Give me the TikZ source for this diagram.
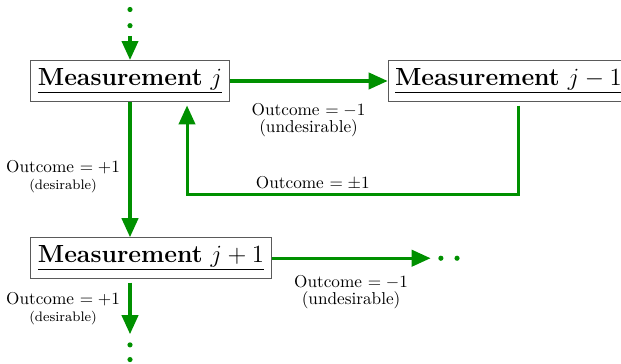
\documentclass[tikz,border=0pt]{standalone}
\usetikzlibrary{arrows.meta, positioning}
\definecolor{flowgreen}{HTML}{009000}
\definecolor{boxgray}{HTML}{5A5A5A}
\newcommand{\measlabel}[1]{\underline{\textbf{Measurement} $#1$}}
\tikzset{
    meas/.style={
        rectangle, draw=boxgray, line width=0.6pt,
        font=\Large, inner sep=4pt, minimum height=0.84cm
    },
    outcome/.style={
        font=\normalsize, text=black, align=center, inner sep=2pt
    },
    flow/.style={
        -{Triangle[length=11pt, width=9.5pt]}, line width=1.75pt, color=flowgreen
    },
    dot/.style={fill=flowgreen}
}

\begin{document}
\begin{tikzpicture}[x=0.02043cm, y=0.02043cm]
    \useasboundingbox (0,0) rectangle (621,-364);

    % Nodes
    \node[meas] (mj) at (130,-81) {\measlabel{j}};
    \node[meas, right=3.23cm of mj] (mjm1) {\measlabel{j-1}};
    \node[meas, below=2.76cm of mj.south west, anchor=north west] (mjp1) {\measlabel{j+1}};

    % Loose ends
    \coordinate (topin) at ([yshift=0.49cm]mj.north);
    \coordinate (rightout) at ([xshift=3.25cm]mjp1.east);
    \coordinate (downout) at ([yshift=-1.12cm]mjp1.south -| mj);

    % Edges
    \draw[flow] (topin) -- (mj);
    \draw[flow] (mj) -- node[outcome, below=10pt]
        {Outcome $= -1$\\[-2pt](undesirable)} (mjm1);
    \draw[flow] (mj) -- node[outcome, pos=0.55, left=3pt]
        {Outcome $= +1$\\[-2pt]{\footnotesize (desirable)}} (mjp1.north -| mj);
    \draw[flow] ([xshift=0.2cm, yshift=-2pt]mjm1.south) -- ++(0,-1.82cm)
        -| ([xshift=1.165cm, yshift=-2pt]mj.south)
        node[outcome, pos=0.31, above] {Outcome $= \pm1$};
    \draw[flow] (mjp1) -- node[outcome, below=7pt]
        {Outcome $= -1$\\[-2pt](undesirable)} (rightout);
    \draw[flow] ([yshift=-2pt]mjp1.south -| mj) -- node[outcome, left=3pt]
        {Outcome $= +1$\\[-2pt]{\footnotesize (desirable)}} (downout);

    % Dots
    \foreach \k in {1,2} {
        \fill[dot] ([yshift=\k*0.33cm-0.12cm]topin) circle (1.5pt);
        \fill[dot] ([xshift=\k*0.33cm-0.12cm]rightout) circle (1.5pt);
        \fill[dot] ([yshift=-\k*0.3cm+0.08cm]downout) circle (1.5pt);
    }

\end{tikzpicture}
\end{document}
